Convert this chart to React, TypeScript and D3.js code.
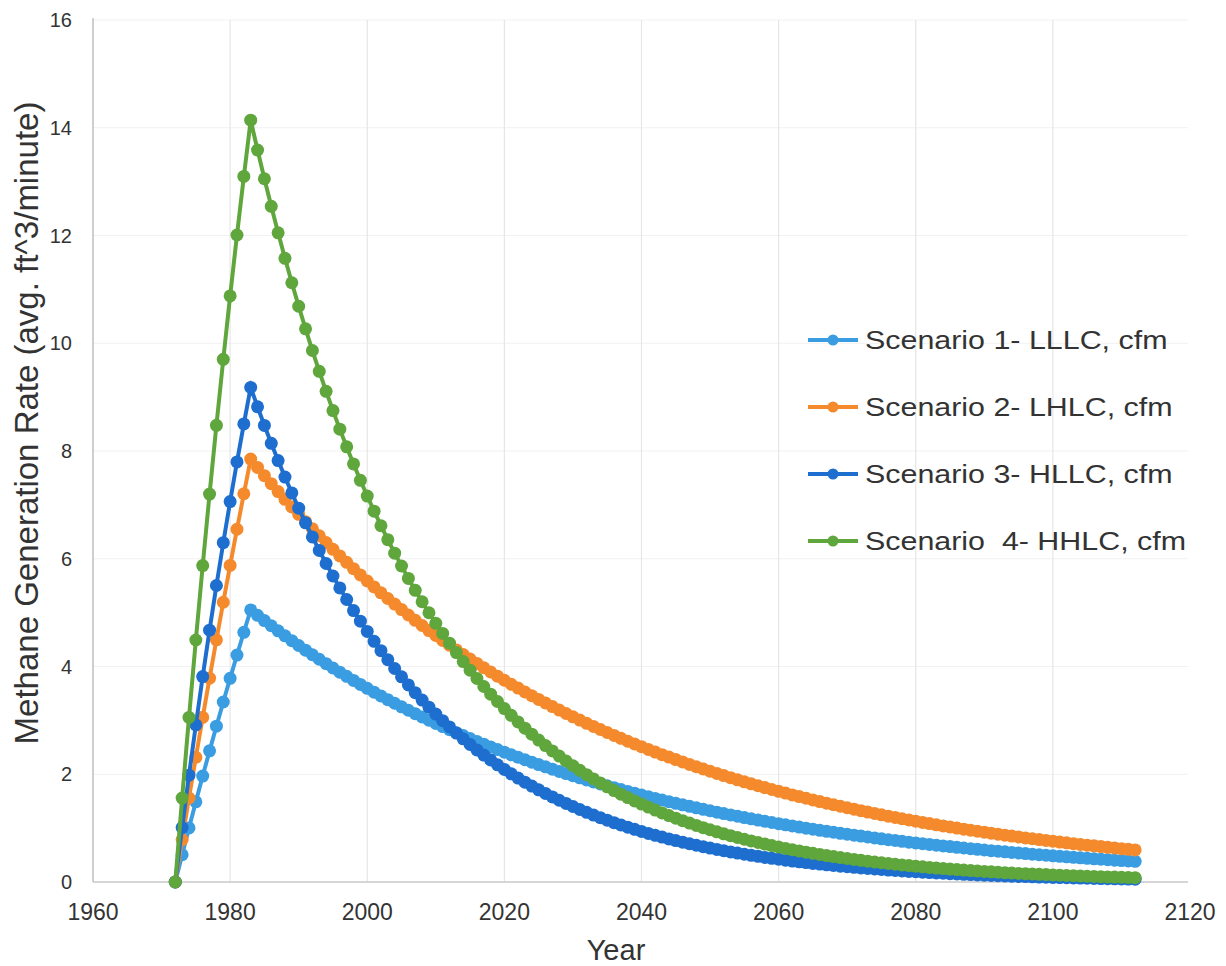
import React from "react";
import * as d3 from "d3";

// Years 1972..2112 (annual)
const YEARS: number[] = d3.range(1972, 2113);

const SERIES_NAMES = [
  "Scenario 1- LLLC, cfm",
  "Scenario 2- LHLC, cfm",
  "Scenario 3- HLLC, cfm",
  "Scenario  4- HHLC, cfm",
];

const SERIES_COLORS = ["#3b9de1", "#f58a2d", "#1d6ecf", "#5fa63c"];

const SCENARIO_1: number[] = [
  0, 0.506, 1.003, 1.489, 1.966, 2.434, 2.892, 3.341, 3.781, 4.212, 4.635,
  5.05, 4.95, 4.852, 4.756, 4.662, 4.569, 4.479, 4.39, 4.303, 4.218,
  4.135, 4.053, 3.972, 3.894, 3.817, 3.741, 3.667, 3.594, 3.523, 3.454,
  3.385, 3.318, 3.252, 3.188, 3.125, 3.063, 3.002, 2.943, 2.885, 2.827,
  2.772, 2.717, 2.663, 2.61, 2.558, 2.508, 2.458, 2.409, 2.362, 2.315,
  2.269, 2.224, 2.18, 2.137, 2.095, 2.053, 2.013, 1.973, 1.934, 1.895,
  1.858, 1.821, 1.785, 1.75, 1.715, 1.681, 1.648, 1.615, 1.583, 1.552,
  1.521, 1.491, 1.461, 1.432, 1.404, 1.376, 1.349, 1.322, 1.296, 1.27,
  1.245, 1.221, 1.196, 1.173, 1.15, 1.127, 1.104, 1.083, 1.061, 1.04,
  1.02, 0.999, 0.98, 0.96, 0.941, 0.923, 0.904, 0.886, 0.869, 0.852,
  0.835, 0.818, 0.802, 0.786, 0.771, 0.755, 0.74, 0.726, 0.711, 0.697,
  0.683, 0.67, 0.657, 0.644, 0.631, 0.618, 0.606, 0.594, 0.582, 0.571,
  0.56, 0.549, 0.538, 0.527, 0.517, 0.506, 0.496, 0.486, 0.477, 0.467,
  0.458, 0.449, 0.44, 0.431, 0.423, 0.415, 0.406, 0.398, 0.39, 0.383,
];

const SCENARIO_2: number[] = [
  0, 0.787, 1.559, 2.315, 3.056, 3.783, 4.495, 5.193, 5.877, 6.548, 7.206,
  7.85, 7.695, 7.542, 7.393, 7.246, 7.103, 6.962, 6.824, 6.689, 6.557,
  6.427, 6.3, 6.175, 6.053, 5.933, 5.815, 5.7, 5.587, 5.477, 5.368,
  5.262, 5.158, 5.056, 4.956, 4.857, 4.761, 4.667, 4.575, 4.484, 4.395,
  4.308, 4.223, 4.139, 4.057, 3.977, 3.898, 3.821, 3.745, 3.671, 3.599,
  3.527, 3.457, 3.389, 3.322, 3.256, 3.192, 3.128, 3.066, 3.006, 2.946,
  2.888, 2.831, 2.775, 2.72, 2.666, 2.613, 2.561, 2.511, 2.461, 2.412,
  2.364, 2.318, 2.272, 2.227, 2.183, 2.139, 2.097, 2.056, 2.015, 1.975,
  1.936, 1.897, 1.86, 1.823, 1.787, 1.752, 1.717, 1.683, 1.65, 1.617,
  1.585, 1.554, 1.523, 1.493, 1.463, 1.434, 1.406, 1.378, 1.351, 1.324,
  1.298, 1.272, 1.247, 1.222, 1.198, 1.174, 1.151, 1.128, 1.106, 1.084,
  1.062, 1.041, 1.021, 1.001, 0.981, 0.961, 0.942, 0.924, 0.905, 0.887,
  0.87, 0.853, 0.836, 0.819, 0.803, 0.787, 0.771, 0.756, 0.741, 0.727,
  0.712, 0.698, 0.684, 0.671, 0.657, 0.644, 0.632, 0.619, 0.607, 0.595,
];

const SCENARIO_3: number[] = [
  0, 1.011, 1.983, 2.916, 3.813, 4.675, 5.503, 6.298, 7.062, 7.797, 8.502,
  9.18, 8.82, 8.474, 8.142, 7.823, 7.516, 7.221, 6.938, 6.666, 6.405,
  6.154, 5.912, 5.68, 5.458, 5.244, 5.038, 4.841, 4.651, 4.468, 4.293,
  4.125, 3.963, 3.808, 3.658, 3.515, 3.377, 3.245, 3.117, 2.995, 2.878,
  2.765, 2.657, 2.552, 2.452, 2.356, 2.264, 2.175, 2.09, 2.008, 1.929,
  1.853, 1.781, 1.711, 1.644, 1.579, 1.517, 1.458, 1.401, 1.346, 1.293,
  1.242, 1.194, 1.147, 1.102, 1.059, 1.017, 0.977, 0.939, 0.902, 0.867,
  0.833, 0.8, 0.769, 0.739, 0.71, 0.682, 0.655, 0.629, 0.605, 0.581,
  0.558, 0.536, 0.515, 0.495, 0.476, 0.457, 0.439, 0.422, 0.405, 0.389,
  0.374, 0.36, 0.345, 0.332, 0.319, 0.306, 0.294, 0.283, 0.272, 0.261,
  0.251, 0.241, 0.232, 0.222, 0.214, 0.205, 0.197, 0.19, 0.182, 0.175,
  0.168, 0.162, 0.155, 0.149, 0.143, 0.138, 0.132, 0.127, 0.122, 0.117,
  0.113, 0.108, 0.104, 0.1, 0.096, 0.092, 0.089, 0.085, 0.082, 0.079,
  0.076, 0.073, 0.07, 0.067, 0.064, 0.062, 0.059, 0.057, 0.055, 0.053,
];

const SCENARIO_4: number[] = [
  0, 1.558, 3.054, 4.492, 5.873, 7.201, 8.476, 9.701, 10.878, 12.009, 13.096,
  14.14, 13.586, 13.053, 12.541, 12.049, 11.577, 11.123, 10.687, 10.268, 9.865,
  9.478, 9.107, 8.75, 8.406, 8.077, 7.76, 7.456, 7.164, 6.883, 6.613,
  6.354, 6.104, 5.865, 5.635, 5.414, 5.202, 4.998, 4.802, 4.614, 4.433,
  4.259, 4.092, 3.931, 3.777, 3.629, 3.487, 3.35, 3.219, 3.093, 2.971,
  2.855, 2.743, 2.635, 2.532, 2.433, 2.337, 2.246, 2.158, 2.073, 1.992,
  1.914, 1.839, 1.766, 1.697, 1.631, 1.567, 1.505, 1.446, 1.39, 1.335,
  1.283, 1.233, 1.184, 1.138, 1.093, 1.05, 1.009, 0.97, 0.932, 0.895,
  0.86, 0.826, 0.794, 0.763, 0.733, 0.704, 0.676, 0.65, 0.624, 0.6,
  0.576, 0.554, 0.532, 0.511, 0.491, 0.472, 0.453, 0.436, 0.419, 0.402,
  0.386, 0.371, 0.357, 0.343, 0.329, 0.316, 0.304, 0.292, 0.281, 0.27,
  0.259, 0.249, 0.239, 0.23, 0.221, 0.212, 0.204, 0.196, 0.188, 0.181,
  0.174, 0.167, 0.16, 0.154, 0.148, 0.142, 0.137, 0.131, 0.126, 0.121,
  0.116, 0.112, 0.107, 0.103, 0.099, 0.095, 0.092, 0.088, 0.085, 0.081,
];

const SERIES = [SCENARIO_1, SCENARIO_2, SCENARIO_3, SCENARIO_4];

const X_TICKS = [1960, 1980, 2000, 2020, 2040, 2060, 2080, 2100, 2120];
const Y_TICKS = [0, 2, 4, 6, 8, 10, 12, 14, 16];

const X_TITLE = "Year";
const Y_TITLE = "Methane Generation Rate (avg. ft^3/minute)";

export default function App() {
  const W = 1226;
  const H = 966;
  const left = 93;
  const right = 1190;
  const top = 20;
  const bottom = 882;

  const x = d3.scaleLinear().domain([1960, 2120]).range([left, right]);
  const y = d3.scaleLinear().domain([0, 16]).range([bottom, top]);

  const line = d3
    .line<number>()
    .x((_, i) => x(YEARS[i]))
    .y((d) => y(d));

  const font = "'Liberation Sans', Arial, sans-serif";
  const legendX = 808;
  const legendY0 = 340;
  const legendDy = 67;

  return (
    <svg
      width={W}
      height={H}
      style={{ position: "absolute", left: 0, top: 0, background: "#fff" }}
      fontFamily={font}
    >
      <rect width={W} height={H} fill="#fff" />
      {/* horizontal gridlines */}
      {Y_TICKS.filter((t) => t > 0).map((t) => (
        <line key={"hg" + t} x1={left} x2={x(2120) - 2} y1={y(t)} y2={y(t)} stroke="#f1f1f1" strokeWidth={1.2} />
      ))}
      {/* vertical gridlines */}
      {X_TICKS.filter((t) => t > 1960 && t < 2120).map((t) => (
        <line key={"vg" + t} x1={x(t)} x2={x(t)} y1={top} y2={bottom} stroke="#e6e6e6" strokeWidth={1.2} />
      ))}
      {/* axes */}
      <line x1={left} x2={left} y1={top - 2} y2={bottom} stroke="#b5b5b5" strokeWidth={1.3} />
      <line x1={left} x2={x(2120) - 2} y1={bottom} y2={bottom} stroke="#c8c8c8" strokeWidth={1.3} />

      {/* y tick labels */}
      {Y_TICKS.map((t) => (
        <text key={"yt" + t} x={left - 21} y={y(t)} dy="0.35em" textAnchor="end" fontSize={20} fill="#333">
          {t}
        </text>
      ))}
      {/* x tick labels */}
      {X_TICKS.map((t) => (
        <text key={"xt" + t} x={x(t)} y={bottom + 38} textAnchor="middle" fontSize={23} fill="#333">
          {t}
        </text>
      ))}

      {/* axis titles */}
      <text x={616} y={960} textAnchor="middle" fontSize={29} fill="#333">
        {X_TITLE}
      </text>
      <text
        transform={`translate(38, 423) rotate(-90)`}
        textAnchor="middle"
        fontSize={33}
        fill="#333"
      >
        {Y_TITLE}
      </text>

      {/* series */}
      {SERIES.map((s, si) => (
        <g key={"s" + si}>
          <path d={line(s) || ""} fill="none" stroke={SERIES_COLORS[si]} strokeWidth={4} />
          {s.map((v, i) => (
            <circle key={i} cx={x(YEARS[i])} cy={y(v)} r={6.5} fill={SERIES_COLORS[si]} />
          ))}
        </g>
      ))}

      {/* legend */}
      {SERIES_NAMES.map((name, i) => {
        const ly = legendY0 + i * legendDy;
        return (
          <g key={"lg" + i}>
            <line x1={legendX} x2={legendX + 50} y1={ly} y2={ly} stroke={SERIES_COLORS[i]} strokeWidth={4} />
            <circle cx={legendX + 25} cy={ly} r={5.5} fill={SERIES_COLORS[i]} />
            <text
              transform={`translate(${legendX + 57}, ${ly}) scale(1.17, 1)`}
              dy="0.35em"
              fontSize={26}
              fill="#333"
              xmlSpace="preserve"
            >
              {name}
            </text>
          </g>
        );
      })}
    </svg>
  );
}
